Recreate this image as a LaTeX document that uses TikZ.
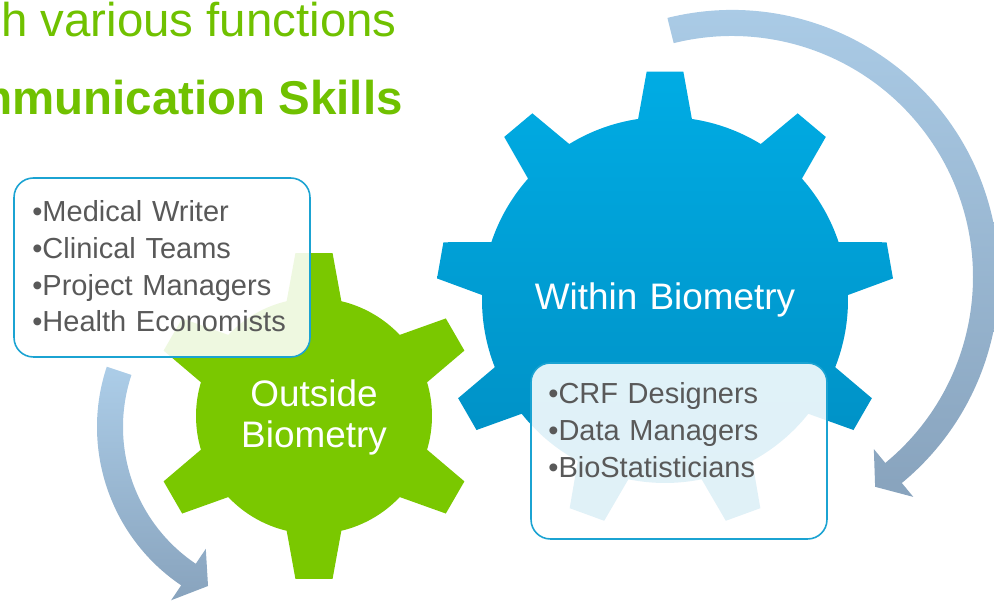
\documentclass[tikz,border=0pt]{standalone}
\usepackage{fontspec}
\setmainfont{Liberation Sans}
\usetikzlibrary{positioning}
\definecolor{titlegreen}{RGB}{112,193,0}
\definecolor{geargreen}{RGB}{122,200,0}
\definecolor{gearbluetop}{RGB}{0,172,228}
\definecolor{gearbluebot}{RGB}{0,140,192}
\definecolor{arrowtop}{RGB}{172,205,232}
\definecolor{arrowbot}{RGB}{136,163,189}
\definecolor{boxcyan}{RGB}{27,163,210}
\definecolor{listgray}{RGB}{89,89,89}

\begin{document}
\begin{tikzpicture}[x=0.02cm, y=0.02cm,
            gearlabel/.style ={text=white, font=\fontsize{21}{22.8}\selectfont, align=center, text width=7cm, inner sep=0pt},
            listbox/.style ={draw=boxcyan, line width=0.9pt, fill=white, fill opacity=0.88, rounded corners=11pt, minimum width=5.92cm},
            listtext/.style ={text=listgray, font=\fontsize{16.5}{20.8}\selectfont, align=left, text width=5.6cm, inner sep=0pt},
            headline/.style ={text=titlegreen, inner sep=0pt, anchor=base east},
            bandarrow/.style ={top color=arrowtop, bottom color=arrowbot}]

            \useasboundingbox (0,0) rectangle (994,607);

            %flechas curvas
            \path[bandarrow, shift={(732,330)}] (104:267) arc[start angle=104, end angle=-50.5, radius=267]
                -- (-50.5:285) -- (-55.7:254) -- (-50.5:223) -- (-50.5:241)
                arc[start angle=-50.5, end angle=104, radius=241] -- cycle;
            \path[bandarrow, shift={(288,180)}] (161.6:191) arc[start angle=161.6, end angle=236, radius=191]
                -- (236:209) -- (243.3:178) -- (236:147) -- (236:165)
                arc[start angle=236, end angle=161.6, radius=165] -- cycle;

            %engranajes
            \path[top color=gearbluetop, bottom color=gearbluebot, shift={(665,307)}] (81.55:183)
                \foreach \k in {0,...,8} {
                    -- ({90+\k*40-8.45}:183) -- ({90+\k*40-4.6}:229) -- ({90+\k*40+4.6}:229) -- ({90+\k*40+8.45}:183)
                    arc[start angle={90+\k*40+8.45}, end angle={90+\k*40+31.55}, radius=183]
                } -- cycle;
            \fill[geargreen, shift={(314,191)}] (76.6:118)
                \foreach \k in {0,...,5} {
                    -- ({90+\k*60-13.4}:118) -- ({90+\k*60-6.5}:164) -- ({90+\k*60+6.5}:164) -- ({90+\k*60+13.4}:118)
                    arc[start angle={90+\k*60+13.4}, end angle={90+\k*60+46.6}, radius=118]
                } -- cycle;

            \node[gearlabel, anchor=base] (within) at (665, 297) {Within Biometry};
            \node[gearlabel, anchor=base] (outside) at (314, 200) {Outside\\Biometry};

            %cajas
            \node[listbox, minimum height=3.58cm] (outbox) at (162, 339.5) {};
            \node[listtext, anchor=base west] (outlist) at (32, 385) {•Medical Writer\\•Clinical Teams\\•Project Managers\\•Health Economists};
            \node[listbox, minimum height=3.52cm] (inbox) at (679, 156) {};
            \node[listtext, anchor=base west] (inlist) at (548, 203) {•CRF Designers\\•Data Managers\\•BioStatisticians};

            %titulo
            \node[headline, font=\fontsize{27}{30}\selectfont] (line1) at (397, 570) {h various functions};
            \node[headline, font=\fontsize{27}{30}\selectfont\bfseries] (line2) at (403, 492) {mmunication Skills};
        \end{tikzpicture}
\end{document}
